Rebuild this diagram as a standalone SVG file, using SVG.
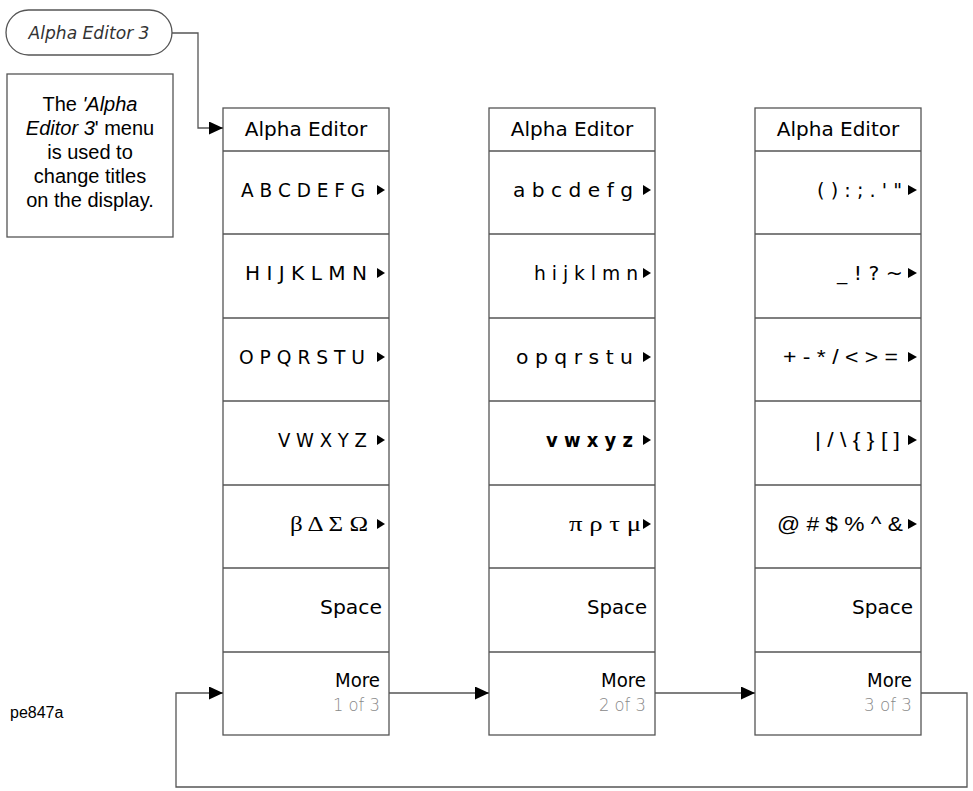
<svg xmlns="http://www.w3.org/2000/svg" width="973" height="791" viewBox="0 0 973 791">
<style>
.box{fill:#fff;stroke:#555;stroke-width:1.3}
.ln{stroke:#555;stroke-width:1.3}
.cn{fill:none;stroke:#555;stroke-width:1.3}
.t{font-family:"DejaVu Sans",sans-serif;font-size:20px;fill:#000}
.g{font-family:"Liberation Serif",serif;font-size:20px;fill:#000}
.s{font-family:"Liberation Sans",sans-serif;font-size:20px;fill:#000}
.n{font-family:"DejaVu Sans",sans-serif;font-size:18px;fill:#888;font-weight:300}
.tri{fill:#000}
.d{font-family:"Liberation Sans",Arial,sans-serif;font-size:20px;fill:#000;text-anchor:middle}
</style>
<defs>
<marker id="ah" markerWidth="14" markerHeight="13" refX="14" refY="6.5" orient="auto" markerUnits="userSpaceOnUse">
<path d="M0,0 L14,6.5 L0,13 Z" fill="#000"/>
</marker>
</defs>

<g id="oval">
<rect x="6" y="10" width="166" height="45" rx="22.5" ry="22.5" class="box"/>
<text x="89" y="39" text-anchor="middle" style="font-family:'DejaVu Sans',sans-serif;font-size:17px;font-style:italic;fill:#333" textLength="121" lengthAdjust="spacingAndGlyphs">Alpha Editor 3</text>
</g>

<g id="desc">
<rect x="7" y="74" width="166" height="163" class="box"/>
<text class="d" x="90" y="111">The <tspan font-style="italic">'Alpha</tspan></text>
<text class="d" x="90" y="135"><tspan font-style="italic">Editor 3</tspan>' menu</text>
<text class="d" x="90" y="159">is used to</text>
<text class="d" x="90" y="183">change titles</text>
<text class="d" x="90" y="207">on the display.</text>
</g>

<g id="label">
<text x="10" y="718" style="font-family:'Liberation Sans',Arial,sans-serif;font-size:16px;fill:#000">pe847a</text>
</g>

<g id="menu1">
<rect x="223" y="108" width="166" height="627" class="box"/>
<line x1="223" y1="151" x2="389" y2="151" class="ln"/>
<line x1="223" y1="234" x2="389" y2="234" class="ln"/>
<line x1="223" y1="318" x2="389" y2="318" class="ln"/>
<line x1="223" y1="401" x2="389" y2="401" class="ln"/>
<line x1="223" y1="485" x2="389" y2="485" class="ln"/>
<line x1="223" y1="568" x2="389" y2="568" class="ln"/>
<line x1="223" y1="652" x2="389" y2="652" class="ln"/>
<text class="t" x="306" y="136" text-anchor="middle">Alpha Editor</text>
<text class="t" x="241" y="197" textLength="124" lengthAdjust="spacingAndGlyphs">A B C D E F G</text>
<text class="t" x="245" y="280" textLength="122" lengthAdjust="spacingAndGlyphs">H I J K L M N</text>
<text class="t" x="239" y="364" textLength="126" lengthAdjust="spacingAndGlyphs">O P Q R S T U</text>
<text class="t" x="278" y="447" textLength="89" lengthAdjust="spacingAndGlyphs">V W X Y Z</text>
<text class="g" x="290" y="531" textLength="78" lengthAdjust="spacingAndGlyphs">β Δ Σ Ω</text>
<text class="t" x="320" y="614" textLength="62" lengthAdjust="spacingAndGlyphs">Space</text>
<text class="t" x="335" y="687" textLength="45" lengthAdjust="spacingAndGlyphs">More</text>
<text class="n" x="333" y="711" textLength="47" lengthAdjust="spacingAndGlyphs">1 of 3</text>
<polygon class="tri" points="377,185 385,190 377,195"/>
<polygon class="tri" points="377,268 385,273 377,278"/>
<polygon class="tri" points="377,352 385,357 377,362"/>
<polygon class="tri" points="377,435 385,440 377,445"/>
<polygon class="tri" points="377,519 385,524 377,529"/>
</g>

<g id="menu2">
<rect x="489" y="108" width="166" height="627" class="box"/>
<line x1="489" y1="151" x2="655" y2="151" class="ln"/>
<line x1="489" y1="234" x2="655" y2="234" class="ln"/>
<line x1="489" y1="318" x2="655" y2="318" class="ln"/>
<line x1="489" y1="401" x2="655" y2="401" class="ln"/>
<line x1="489" y1="485" x2="655" y2="485" class="ln"/>
<line x1="489" y1="568" x2="655" y2="568" class="ln"/>
<line x1="489" y1="652" x2="655" y2="652" class="ln"/>
<text class="t" x="572" y="136" text-anchor="middle">Alpha Editor</text>
<text class="t" x="513" y="197" textLength="120" lengthAdjust="spacingAndGlyphs">a b c d e f g</text>
<text class="t" x="534" y="280" textLength="104" lengthAdjust="spacingAndGlyphs">h i j k l m n</text>
<text class="t" x="516" y="364" textLength="117" lengthAdjust="spacingAndGlyphs">o p q r s t u</text>
<text class="t" x="546" y="447" textLength="87" lengthAdjust="spacingAndGlyphs" font-weight="bold">v w x y z</text>
<text class="g" x="569" y="531" textLength="72" lengthAdjust="spacingAndGlyphs">π ρ τ μ</text>
<text class="t" x="587" y="614" textLength="60" lengthAdjust="spacingAndGlyphs">Space</text>
<text class="t" x="601" y="687" textLength="45" lengthAdjust="spacingAndGlyphs">More</text>
<text class="n" x="599" y="711" textLength="47" lengthAdjust="spacingAndGlyphs">2 of 3</text>
<polygon class="tri" points="643,185 651,190 643,195"/>
<polygon class="tri" points="643,268 651,273 643,278"/>
<polygon class="tri" points="643,352 651,357 643,362"/>
<polygon class="tri" points="643,435 651,440 643,445"/>
<polygon class="tri" points="643,519 651,524 643,529"/>
</g>

<g id="menu3">
<rect x="755" y="108" width="166" height="627" class="box"/>
<line x1="755" y1="151" x2="921" y2="151" class="ln"/>
<line x1="755" y1="234" x2="921" y2="234" class="ln"/>
<line x1="755" y1="318" x2="921" y2="318" class="ln"/>
<line x1="755" y1="401" x2="921" y2="401" class="ln"/>
<line x1="755" y1="485" x2="921" y2="485" class="ln"/>
<line x1="755" y1="568" x2="921" y2="568" class="ln"/>
<line x1="755" y1="652" x2="921" y2="652" class="ln"/>
<text class="t" x="838" y="136" text-anchor="middle">Alpha Editor</text>
<text class="t" x="817" y="197" textLength="85" lengthAdjust="spacingAndGlyphs">( ) : ; . ' "</text>
<text class="t" x="837" y="280" textLength="66" lengthAdjust="spacingAndGlyphs">_ ! ? ~</text>
<text class="s" x="783" y="364" textLength="115" lengthAdjust="spacingAndGlyphs">+ - * / &lt; &gt; =</text>
<text class="s" x="815" y="447" textLength="85" lengthAdjust="spacingAndGlyphs">| / \ { } [ ]</text>
<text class="s" x="777" y="531" textLength="126" lengthAdjust="spacingAndGlyphs">@ # $ % ^ &amp;</text>
<text class="t" x="852" y="614" textLength="61" lengthAdjust="spacingAndGlyphs">Space</text>
<text class="t" x="867" y="687" textLength="45" lengthAdjust="spacingAndGlyphs">More</text>
<text class="n" x="864" y="711" textLength="48" lengthAdjust="spacingAndGlyphs">3 of 3</text>
<polygon class="tri" points="908,185 917,190 908,195"/>
<polygon class="tri" points="908,268 917,273 908,278"/>
<polygon class="tri" points="908,352 917,357 908,362"/>
<polygon class="tri" points="908,435 917,440 908,445"/>
<polygon class="tri" points="908,519 917,524 908,529"/>
</g>

<g id="connectors">
<polyline class="cn" points="172,33 198,33 198,128 223,128" marker-end="url(#ah)"/>
<line class="cn" x1="389" y1="693" x2="489" y2="693" marker-end="url(#ah)"/>
<line class="cn" x1="655" y1="693" x2="755" y2="693" marker-end="url(#ah)"/>
<polyline class="cn" points="921,693 967,693 967,787 176,787 176,693 223,693" marker-end="url(#ah)"/>
</g>
</svg>
